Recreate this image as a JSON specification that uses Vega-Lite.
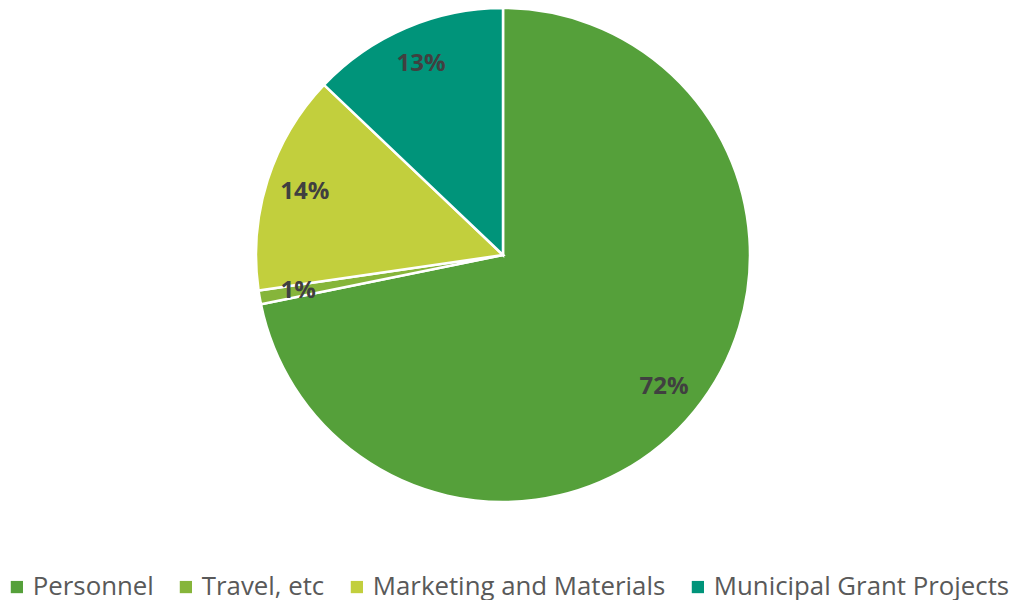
{
  "$schema": "https://vega.github.io/schema/vega-lite/v6.json",
  "width": 1006,
  "height": 494,
  "padding": {"left": 0, "top": 3, "right": 9, "bottom": 0},
  "background": "white",
  "data": {"values": [
    {"category": "Personnel", "value": 71.8, "label": "72%", "idx": 1},
    {"category": "Travel, etc", "value": 0.9, "label": "1%", "idx": 2},
    {"category": "Marketing and Materials", "value": 14.4, "label": "14%", "idx": 3},
    {"category": "Municipal Grant Projects", "value": 12.9, "label": "13%", "idx": 4}
  ]},
  "encoding": {
    "theta": {"field": "value", "type": "quantitative", "stack": true},
    "order": {"field": "idx", "type": "quantitative"}
  },
  "layer": [
    {
      "mark": {"type": "arc", "outerRadius": 247, "stroke": "white", "strokeWidth": 2.5},
      "encoding": {
        "color": {
          "field": "category", "type": "nominal",
          "scale": {
            "domain": ["Personnel", "Travel, etc", "Marketing and Materials", "Municipal Grant Projects"],
            "range": ["#55A03A", "#86B53A", "#C2CF3D", "#00947A"]
          },
          "legend": {
            "title": null,
            "orient": "none",
            "legendX": 4,
            "legendY": 566,
            "padding": 0,
            "direction": "horizontal",
            "symbolType": "square",
            "symbolSize": 150,
            "symbolStrokeWidth": 0,
            "labelFont": "Open Sans",
            "labelFontSize": 25.8,
            "labelColor": "#595959",
            "labelOffset": 3,
            "columnPadding": 19,
            "labelLimit": 400
          }
        }
      }
    },
    {
      "mark": {"type": "text", "radius": 208, "font": "Open Sans", "fontWeight": "bold", "fontSize": 24, "fill": "#404040"},
      "encoding": {"text": {"field": "label"}}
    }
  ]
}
